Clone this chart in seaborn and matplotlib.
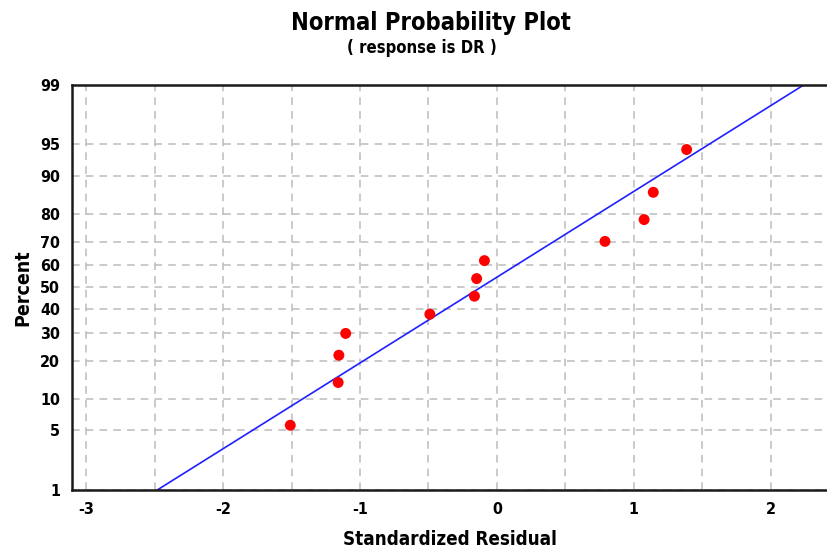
import numpy as np
import matplotlib
matplotlib.use("Agg")
import matplotlib.pyplot as plt
import seaborn as sns
from statistics import NormalDist

# Standardized residuals (sorted)
residuals = [-1.51, -1.16, -1.155, -1.105, -0.49, -0.164, -0.148, -0.091,
             0.79, 1.076, 1.143, 1.387]

# Percent ticks on the probability axis
pct_ticks = [1, 5, 10, 20, 30, 40, 50, 60, 70, 80, 90, 95, 99]
x_ticks = [-3, -2, -1, 0, 1, 2]

n = len(residuals)
# Minitab-style plotting positions
percent = [(i - 0.3) / (n + 0.4) * 100 for i in range(1, n + 1)]

# Fitted normal line from mean / std of the residuals
mu = np.mean(residuals)
sd = np.std(residuals, ddof=1)
nd = NormalDist()
line_pct = [1, 99]
line_x = [mu + sd * nd.inv_cdf(p / 100) for p in line_pct]

# Probit scale for the y axis
_ppf = np.vectorize(lambda v: nd.inv_cdf(v / 100), otypes=[float])
_cdf = np.vectorize(lambda v: nd.cdf(v) * 100, otypes=[float])

def fwd(p):
    p = np.clip(np.asarray(p, dtype=float), 1e-6, 100 - 1e-6)
    return _ppf(p)

def inv(z):
    return _cdf(np.asarray(z, dtype=float))

sns.set_style("white")
plt.rcParams['font.family'] = ['DejaVu Sans']
plt.rcParams['text.color'] = 'black'

fig = plt.figure(figsize=(8.28, 5.49), dpi=100)
ax = fig.add_axes([0.087, 0.108, 0.913, 0.737])
ax.set_yscale('function', functions=(fwd, inv))

sns.lineplot(x=line_x, y=line_pct, color='#2020ff', linewidth=1.2, sort=False, ax=ax)
sns.scatterplot(x=residuals, y=percent, color='#ff0000', s=62, edgecolor='none', ax=ax, zorder=5)

ax.set_xlim(-3.105, 2.42)
ax.set_ylim(1, 99)
ax.set_yticks(pct_ticks)
ax.set_yticklabels([str(t) for t in pct_ticks])
ax.set_xticks(x_ticks)
ax.set_xticklabels([str(t) for t in x_ticks])
ax.set_xticks(np.arange(-3, 2.31, 0.5), minor=True)

ax.grid(True, which='both', axis='x', color='#bcbcbc', linestyle=(0, (5, 4)), linewidth=1.1)
ax.grid(True, which='major', axis='y', color='#bcbcbc', linestyle=(0, (5, 4)), linewidth=1.1)

for side in ['left', 'bottom', 'top']:
    ax.spines[side].set_color('#1a1a1a')
    ax.spines[side].set_linewidth(1.8)
ax.spines['right'].set_visible(False)

ax.tick_params(axis='both', which='major', direction='out', length=5, width=1,
               color='#1a1a1a', labelsize=11.5, labelcolor='black')
ax.tick_params(axis='x', which='minor', length=0)
ax.tick_params(axis='y', which='minor', length=0, left=False)
for lab in ax.get_xticklabels() + ax.get_yticklabels():
    lab.set_fontweight('semibold')
    lab.set_fontstretch('condensed')

ax.set_xlabel('Standardized Residual', fontsize=13.5, fontweight='bold', fontstretch='condensed',
              labelpad=10, color='black')
ax.set_ylabel('Percent', fontsize=14, fontweight='bold', fontstretch='condensed',
              labelpad=6, color='black')

fig.text(0.52, 0.958, 'Normal Probability Plot', ha='center', va='center',
         fontsize=17, fontweight='bold', fontstretch='condensed')
fig.text(0.51, 0.912, '( response is DR )', ha='center', va='center',
         fontsize=12, fontweight='bold', fontstretch='condensed')

fig.savefig('out.png', dpi=100)
